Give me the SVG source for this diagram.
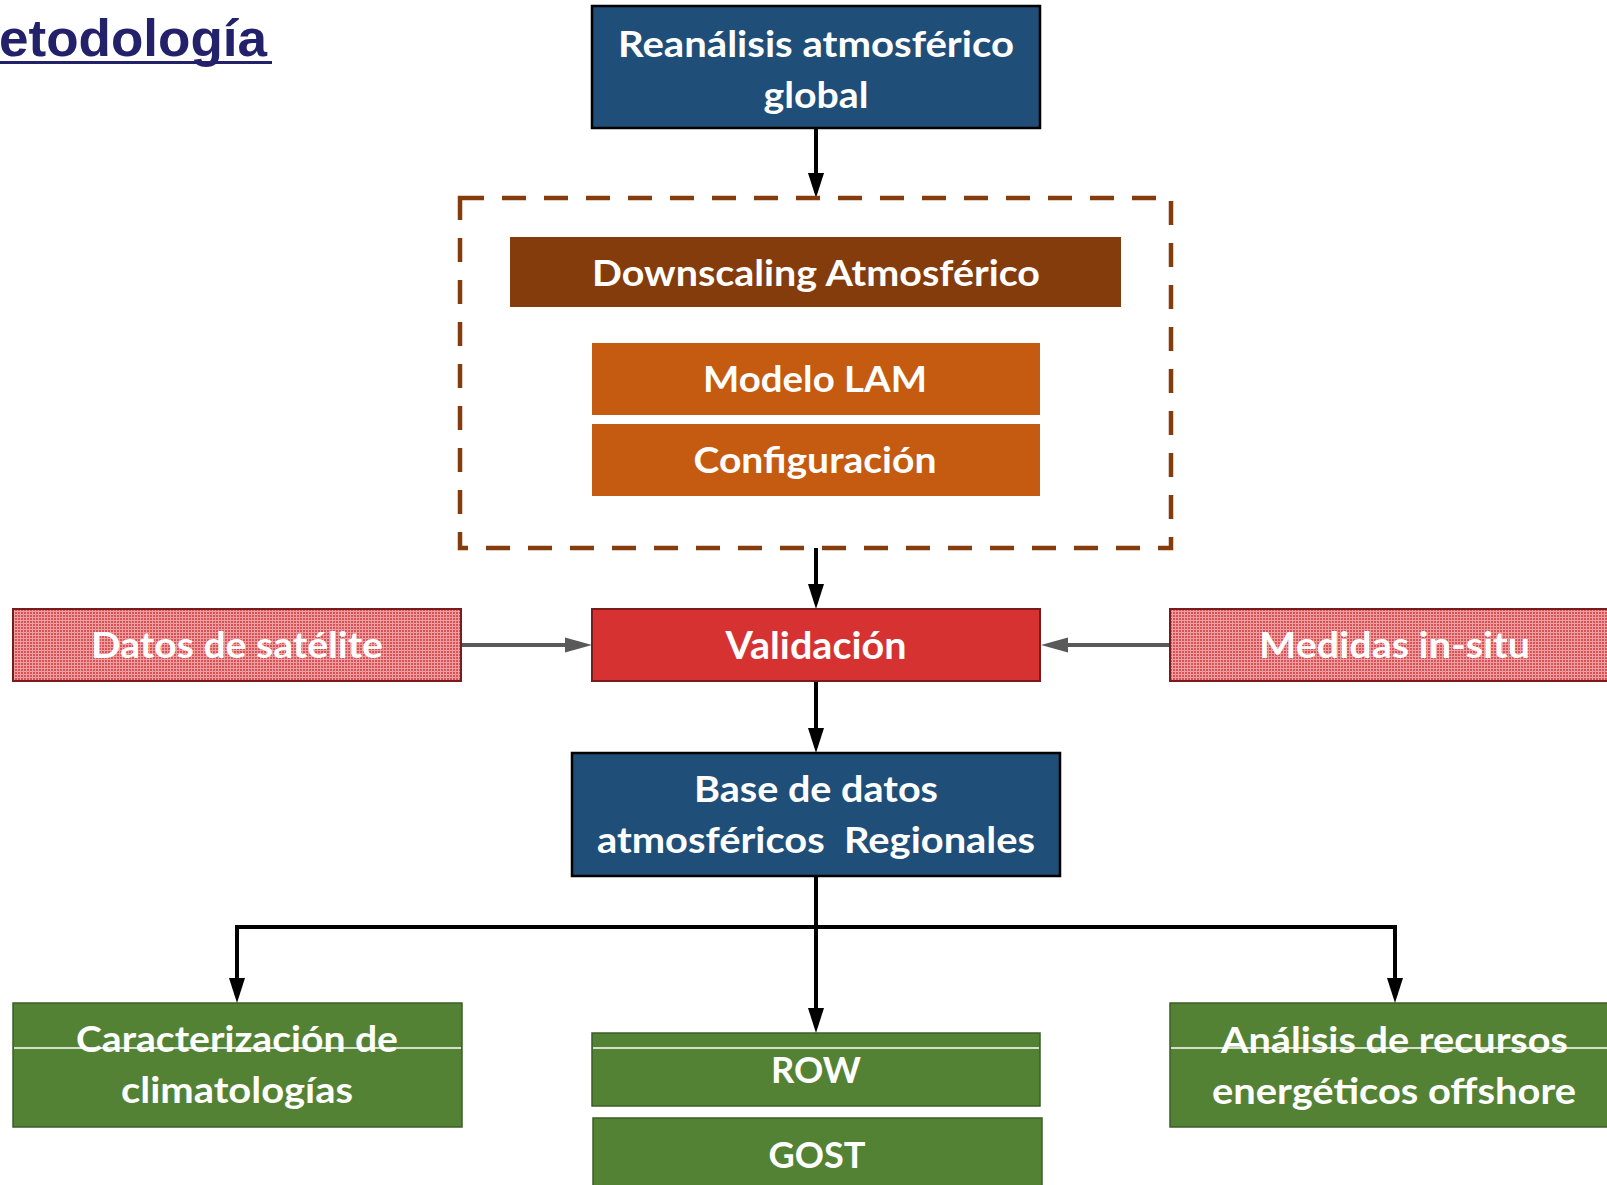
<svg xmlns="http://www.w3.org/2000/svg" width="1607" height="1185" viewBox="0 0 1607 1185">
<style>
.t{font-family:Lato,"Open Sans","Liberation Sans",sans-serif;font-weight:700;fill:#fff;text-anchor:middle}
.blue{fill:#1F4E79;stroke:#000;stroke-width:2.5}
.green{fill:#548235;stroke:#3B5E27;stroke-width:1.5}
.orange{fill:#C55A11}
.brown{fill:#843C0C}
.pat{fill:url(#grid);stroke:#7B1A1A;stroke-width:2}
.red{fill:#D63232;stroke:#7A1B1B;stroke-width:2}
.conn{fill:none;stroke:#000;stroke-width:4;stroke-linejoin:miter}
.gconn{fill:none;stroke:#595959;stroke-width:4}
.wl{stroke:#fff;stroke-width:1.5}
</style>
<defs>
<pattern id="grid" width="3" height="3" patternUnits="userSpaceOnUse">
<rect width="3" height="3" fill="#EE9FA1"/>
<rect width="2" height="2" fill="#DB5256"/>
</pattern>
<marker id="ab" markerWidth="25" markerHeight="16" refX="5" refY="8" orient="auto" markerUnits="userSpaceOnUse">
<path d="M0,0 L25,8 L0,16 z" fill="#000"/>
</marker>
<marker id="ag" markerWidth="27" markerHeight="16" refX="7" refY="8" orient="auto" markerUnits="userSpaceOnUse">
<path d="M0,0.5 L27,8 L0,15.5 z" fill="#595959"/>
</marker>
</defs>
<rect width="1607" height="1185" fill="#fff"/>

<g id="title">
<text x="-1" y="56" font-family="'Liberation Sans',Arial,sans-serif" font-weight="700" font-size="52" fill="#24216B" textLength="268" lengthAdjust="spacingAndGlyphs">etodología</text>
<rect x="0" y="61" width="272" height="3" fill="#24216B"/>
</g>

<g id="connectors">
<path class="conn" d="M816,129 V178" marker-end="url(#ab)"/>
<path class="conn" d="M816,548 V589" marker-end="url(#ab)"/>
<path class="conn" d="M816,681 V733" marker-end="url(#ab)"/>
<path class="conn" d="M816,876 V1013" marker-end="url(#ab)"/>
<path class="conn" d="M818,927 H237 V983" marker-end="url(#ab)"/>
<path class="conn" d="M814,927 H1395 V983" marker-end="url(#ab)"/>
<path class="gconn" d="M461,645 H572" marker-end="url(#ag)"/>
<path class="gconn" d="M1170,645 H1061" marker-end="url(#ag)"/>
</g>

<g id="reanalisis">
<rect class="blue" x="592" y="6" width="448" height="122"/>
<text class="t" x="816" y="57" font-size="36" textLength="396" lengthAdjust="spacingAndGlyphs">Reanálisis atmosférico</text>
<text class="t" x="816" y="108" font-size="36" textLength="105" lengthAdjust="spacingAndGlyphs">global</text>
</g>

<g id="downscaling-group">
<rect x="460" y="198" width="711" height="350" fill="none" stroke="#843C0C" stroke-width="4.5" stroke-dasharray="24 18"/>
</g>

<g id="downscaling">
<rect class="brown" x="510" y="237" width="611" height="70"/>
<text class="t" x="816" y="286" font-size="37" textLength="448" lengthAdjust="spacingAndGlyphs">Downscaling Atmosférico</text>
</g>

<g id="modelo">
<rect class="orange" x="592" y="343" width="448" height="72"/>
<text class="t" x="815" y="392" font-size="37" textLength="224" lengthAdjust="spacingAndGlyphs">Modelo LAM</text>
</g>

<g id="configuracion">
<rect class="orange" x="592" y="424" width="448" height="72"/>
<text class="t" x="815" y="473" font-size="37" textLength="243" lengthAdjust="spacingAndGlyphs">Configuración</text>
</g>

<g id="satelite">
<rect class="pat" x="13" y="609" width="448" height="72"/>
<text class="t" x="237" y="658" font-size="37" textLength="292" lengthAdjust="spacingAndGlyphs">Datos de satélite</text>
</g>

<g id="validacion">
<rect class="red" x="592" y="609" width="448" height="72"/>
<text class="t" x="816" y="659" font-size="38" textLength="181" lengthAdjust="spacingAndGlyphs">Validación</text>
</g>

<g id="insitu">
<rect class="pat" x="1170" y="609" width="449" height="72"/>
<text class="t" x="1394.5" y="658" font-size="37" textLength="271" lengthAdjust="spacingAndGlyphs">Medidas in-situ</text>
</g>

<g id="base">
<rect class="blue" x="572" y="753" width="488" height="123"/>
<text class="t" x="816" y="802" font-size="36" textLength="244" lengthAdjust="spacingAndGlyphs">Base de datos</text>
<text class="t" x="816" y="853" font-size="36" textLength="438" lengthAdjust="spacingAndGlyphs" xml:space="preserve">atmosféricos  Regionales</text>
</g>

<g id="caracterizacion">
<rect class="green" x="13" y="1003" width="449" height="124"/>
<line class="wl" x1="14" y1="1048" x2="461" y2="1048"/>
<text class="t" x="237" y="1052" font-size="37" textLength="322" lengthAdjust="spacingAndGlyphs">Caracterización de</text>
<text class="t" x="237" y="1103" font-size="37" textLength="232" lengthAdjust="spacingAndGlyphs">climatologías</text>
</g>

<g id="row">
<rect class="green" x="592" y="1033" width="448" height="73"/>
<line class="wl" x1="593" y1="1048" x2="1039" y2="1048"/>
<text class="t" x="816" y="1083" font-size="37" textLength="90" lengthAdjust="spacingAndGlyphs">ROW</text>
</g>

<g id="gost">
<rect class="green" x="593" y="1118" width="449" height="80"/>
<text class="t" x="817" y="1168" font-size="37" textLength="97" lengthAdjust="spacingAndGlyphs">GOST</text>
</g>

<g id="analisis">
<rect class="green" x="1170" y="1003" width="449" height="124"/>
<line class="wl" x1="1171" y1="1048" x2="1607" y2="1048"/>
<text class="t" x="1394.5" y="1053" font-size="37" textLength="347" lengthAdjust="spacingAndGlyphs">Análisis de recursos</text>
<text class="t" x="1394" y="1104" font-size="37" textLength="364" lengthAdjust="spacingAndGlyphs">energéticos offshore</text>
</g>
</svg>
